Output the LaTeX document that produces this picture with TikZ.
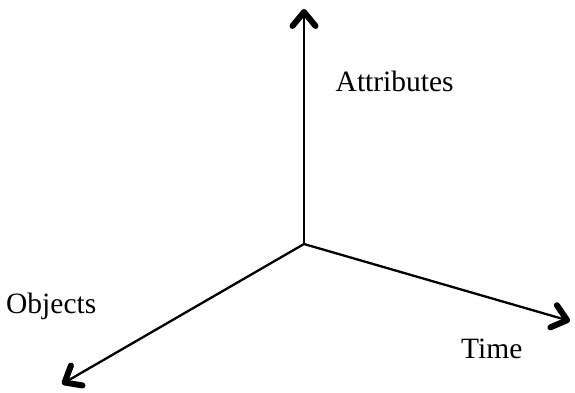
\documentclass[tikz,border=0pt]{standalone}
\usepackage{fontspec}
\setmainfont{Liberation Serif}
\usetikzlibrary{arrows.meta}
\begin{document}
\begin{tikzpicture}[x=1pt,y=-1pt,
  axis/.style={line width=2.3pt,-{Straight Barb[length=14pt,width=23pt,line width=6pt,round]}},
  lbl/.style={inner sep=0pt,anchor=base west,font=\fontsize{29.5}{33}\selectfont}]
\useasboundingbox (0,0) rectangle (575,392);
\coordinate (o) at (304,244);
\coordinate (up) at (304,9);
\coordinate (tr) at (570,321);
\coordinate (bl) at (62,384);
\draw[axis] (o) -- (up);
\draw[axis] (o) -- (tr);
\draw[axis] (o) -- (bl);
\node[lbl] (attr) at (335.5,91) {Attributes};
\node[lbl] (obj) at (6,313.3) {Objects};
\node[lbl] (time) at (461,358.3) {Time};
\end{tikzpicture}
\end{document}
